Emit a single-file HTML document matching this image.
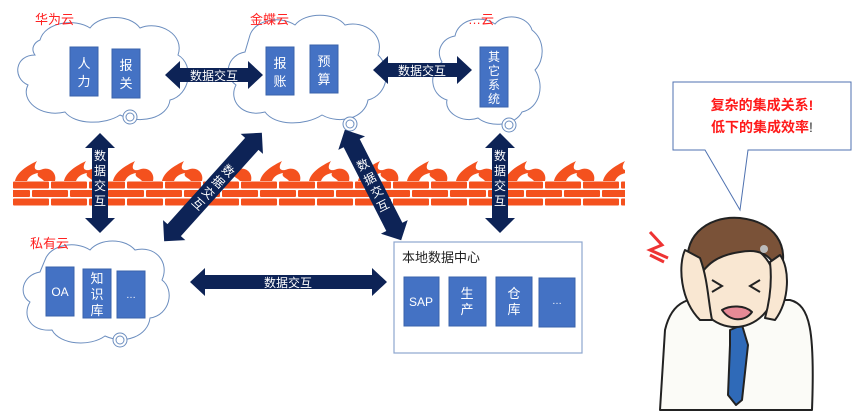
<!DOCTYPE html>
<html><head><meta charset="utf-8"><style>
html,body{margin:0;padding:0;background:#fff;width:865px;height:417px;overflow:hidden}
svg{display:block}
text{font-family:"Liberation Sans","Noto Sans CJK SC",sans-serif}
</style></head><body>
<svg width="865" height="417" viewBox="0 0 865 417" xmlns="http://www.w3.org/2000/svg">
<defs>
<pattern id="brick" x="13" y="181" width="76" height="17" patternUnits="userSpaceOnUse">
<rect x="0" y="0.5" width="36" height="7" rx="1" fill="#f4511e"/>
<rect x="38" y="0.5" width="36" height="7" rx="1" fill="#f4511e"/>
<rect x="-19" y="9" width="36" height="7" rx="1" fill="#f4511e"/>
<rect x="19" y="9" width="36" height="7" rx="1" fill="#f4511e"/>
<rect x="57" y="9" width="36" height="7" rx="1" fill="#f4511e"/>
</pattern>
<pattern id="flame" x="13" y="160" width="49" height="22" patternUnits="userSpaceOnUse">
<path d="M2 21 C4 12 14 6 24 1 C19 9 23 12 30 9 C38 7 44 14 42 21 Z" fill="#f4511e"/>
<path d="M14 21 C16 16 20 14 25 13 C23 17 29 18 31 21 Z" fill="#fff"/>
</pattern>
</defs>
<rect x="13" y="160" width="612" height="22" fill="url(#flame)"/>
<rect x="13" y="181" width="612" height="26" fill="url(#brick)"/>

<g fill="#fff" stroke="#6c8ebf" stroke-width="1">
<path d="M40 40 C45 22 75 18 90 28 C100 14 130 14 140 28 C160 20 185 35 178 55 C195 65 190 95 170 100 C168 118 140 125 120 115 C105 125 75 125 65 112 C40 118 20 100 28 85 C12 78 15 55 35 55 C30 48 35 42 40 40 Z"/>
<circle cx="130" cy="117" r="7"/><circle cx="130" cy="117" r="4"/>
<path d="M250 35 C255 20 280 15 295 25 C305 12 335 12 345 25 C365 20 385 35 378 55 C392 68 388 95 368 100 C365 118 340 125 322 115 C305 126 275 126 265 112 C242 118 228 100 236 85 C222 75 228 55 245 52 Z"/>
<circle cx="350" cy="124" r="7"/><circle cx="350" cy="124" r="4"/>
<path d="M455 36 C458 20 480 14 495 24 C505 12 528 16 532 30 C545 40 545 60 535 70 C545 85 540 108 522 112 C515 126 490 128 478 118 C462 124 444 112 447 100 C430 95 428 72 442 62 C435 50 443 38 455 36 Z"/>
<circle cx="509" cy="125" r="7"/><circle cx="509" cy="125" r="4"/>
<path d="M45 260 C50 245 75 240 90 250 C100 238 125 238 135 250 C155 245 170 262 162 280 C175 290 170 315 150 318 C148 336 125 345 105 336 C90 347 60 345 52 330 C30 332 22 315 30 302 C18 295 22 275 40 272 Z"/>
<circle cx="120" cy="340" r="7"/><circle cx="120" cy="340" r="4"/>
</g>
<rect x="394" y="242" width="188" height="111" fill="#fff" stroke="#8ea6cf" stroke-width="1.2"/>
<text x="402" y="262" font-size="13" fill="#222">本地数据中心</text>

<g fill="#4472c4" stroke="#3a63ab" stroke-width="1">
<rect x="70" y="47" width="28" height="49"/><rect x="112" y="49" width="28" height="49"/>
<rect x="266" y="47" width="28" height="48"/><rect x="310" y="45" width="28" height="48"/>
<rect x="480" y="47" width="28" height="60"/>
<rect x="46" y="267" width="28" height="49"/><rect x="83" y="269" width="28" height="49"/><rect x="117" y="271" width="28" height="47"/>
<rect x="404" y="277" width="35" height="49"/><rect x="449" y="277" width="37" height="49"/><rect x="496" y="277" width="36" height="49"/><rect x="539" y="278" width="36" height="49"/>
</g>
<g fill="#fff" font-size="13" text-anchor="middle">
<text x="84" y="68">人</text><text x="84" y="86">力</text>
<text x="126" y="70">报</text><text x="126" y="88">关</text>
<text x="280" y="68">报</text><text x="280" y="86">账</text>
<text x="324" y="66">预</text><text x="324" y="84">算</text>
<g font-size="12"><text x="494" y="61">其</text><text x="494" y="75">它</text><text x="494" y="89">系</text><text x="494" y="103">统</text></g>
<text x="60" y="296" font-size="12">OA</text>
<text x="97" y="283">知</text><text x="97" y="299">识</text><text x="97" y="315">库</text>
<text x="131" y="298" font-size="10">…</text>
<text x="421" y="306" font-size="12">SAP</text>
<text x="467" y="298">生</text><text x="467" y="314">产</text>
<text x="514" y="298">仓</text><text x="514" y="314">库</text>
<text x="557" y="304" font-size="10">…</text>
</g>
<g fill="#ff2020" font-size="13">
<text x="35" y="24">华为云</text><text x="250" y="24">金蝶云</text><text x="468" y="24">…云</text><text x="30" y="248">私有云</text>
</g>

<g fill="#0d2356">
<path d="M165 75 L180 61 L180 68 L248 68 L248 61 L263 75 L248 89 L248 82 L180 82 L180 89 Z"/>
<path d="M373 70 L388 56 L388 63 L457 63 L457 56 L472 70 L457 84 L457 77 L388 77 L388 84 Z"/>
<path d="M190 282 L205 268 L205 275 L372 275 L372 268 L387 282 L372 296 L372 289 L205 289 L205 296 Z"/>
<path d="M100 133 L115 148 L108 148 L108 218 L115 218 L100 233 L85 218 L92 218 L92 148 L85 148 Z"/>
<path d="M500 133 L515 148 L508 148 L508 218 L515 218 L500 233 L485 218 L492 218 L492 148 L485 148 Z"/>
<g transform="translate(213,187) rotate(-48)">
<path d="M-73 0 L-58 -15 L-58 -9 L58 -9 L58 -15 L73 0 L58 15 L58 9 L-58 9 L-58 15 Z"/>
</g>
<g transform="translate(373,185) rotate(63)">
<path d="M-62 0 L-47 -15 L-47 -9 L47 -9 L47 -15 L62 0 L47 15 L47 9 L-47 9 L-47 15 Z"/>
</g>
</g>
<g fill="#fff" font-size="12" text-anchor="middle">
<text x="214" y="80">数据交互</text>
<text x="422" y="75">数据交互</text>
<text x="288" y="287">数据交互</text>
<text x="100" y="160">数</text><text x="100" y="175">据</text><text x="100" y="190">交</text><text x="100" y="205">互</text>
<text x="500" y="160">数</text><text x="500" y="175">据</text><text x="500" y="190">交</text><text x="500" y="205">互</text>
</g>
<g fill="#fff" font-size="12" text-anchor="middle" dominant-baseline="central">
<text transform="translate(228,171) rotate(42)">数</text>
<text transform="translate(218,182) rotate(42)">据</text>
<text transform="translate(208,193) rotate(42)">交</text>
<text transform="translate(198,204) rotate(42)">互</text>
<text transform="translate(363,165) rotate(-27)">数</text>
<text transform="translate(370,179) rotate(-27)">据</text>
<text transform="translate(377,192) rotate(-27)">交</text>
<text transform="translate(383,206) rotate(-27)">互</text>
</g>

<path d="M673 82 L851 82 L851 150 L748 150 L740 210 L705 150 L673 150 Z" fill="#fff" stroke="#4f72b0" stroke-width="1"/>
<g font-size="14" font-weight="bold" fill="#ff1a1a" text-anchor="middle">
<text x="762" y="110">复杂的集成关系!</text>
<text x="762" y="132">低下的集成效率<tspan fill="#333" font-weight="normal">!</tspan></text>
</g>

<g stroke="#222" stroke-width="2" stroke-linejoin="round">
<path d="M660 410 L665 330 C672 300 690 295 720 300 L790 300 C810 305 815 330 812 410 Z" fill="#fbfbf7"/>
<path d="M730 330 L742 325 L748 345 L742 400 L736 405 L728 395 L730 345 Z" fill="#2f6ab8"/>
<ellipse cx="735" cy="285" rx="40" ry="42" fill="#f9e7d2"/>
<path d="M690 270 C680 240 705 215 740 218 C775 222 790 245 780 275 C772 255 760 248 740 252 C720 255 705 262 695 285 Z" fill="#7a5238"/>
<path d="M685 250 C678 265 680 300 700 320 L712 320 C708 300 708 280 700 258 Z" fill="#f9e7d2"/>
<path d="M780 255 C790 268 790 300 775 320 L765 318 C770 300 772 280 770 262 Z" fill="#f9e7d2"/>
<path d="M722 310 C730 305 745 305 752 312 C745 322 730 322 722 310 Z" fill="#e78a96"/>
</g>
<circle cx="764" cy="249" r="4" fill="#bbb"/>
<path d="M712 280 L722 286 L712 292 M760 280 L750 286 L760 292" fill="none" stroke="#222" stroke-width="2"/>
<path d="M650 232 L662 245 L650 250 L668 258" fill="none" stroke="#e33" stroke-width="3"/>
<path d="M650 255 L664 262" fill="none" stroke="#e33" stroke-width="3"/>
</svg>
</body></html>
